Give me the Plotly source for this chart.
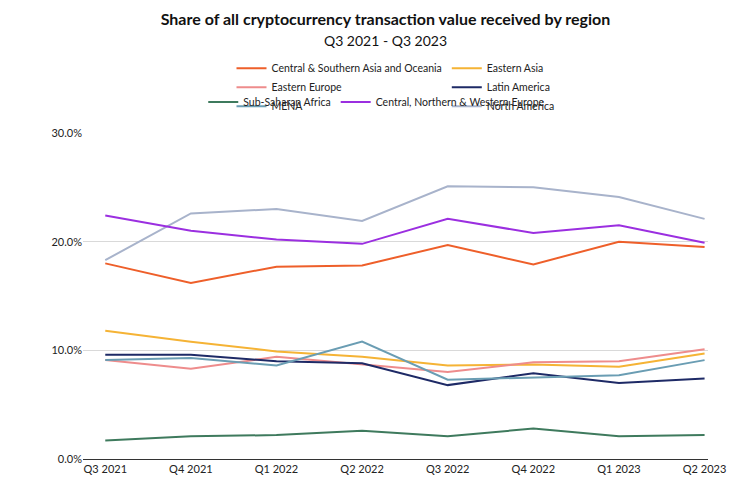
import plotly.graph_objects as go

quarters = ['Q3 2021', 'Q4 2021', 'Q1 2022', 'Q2 2022', 'Q3 2022', 'Q4 2022', 'Q1 2023', 'Q2 2023']

cs_asia = [18.0, 16.2, 17.7, 17.8, 19.7, 17.9, 20.0, 19.5]
e_asia = [11.8, 10.8, 9.9, 9.4, 8.6, 8.7, 8.5, 9.7]
e_europe = [9.1, 8.3, 9.4, 8.7, 8.0, 8.9, 9.0, 10.1]
latam = [9.6, 9.6, 9.0, 8.8, 6.8, 7.9, 7.0, 7.4]
mena = [9.1, 9.3, 8.6, 10.8, 7.3, 7.5, 7.7, 9.1]
n_america = [18.3, 22.6, 23.0, 21.9, 25.1, 25.0, 24.1, 22.1]
ss_africa = [1.7, 2.1, 2.2, 2.6, 2.1, 2.8, 2.1, 2.2]
cnw_europe = [22.4, 21.0, 20.2, 19.8, 22.1, 20.8, 21.5, 19.9]

series = [
    ('Central & Southern Asia and Oceania', cs_asia, '#EE5F2A', 'legend'),
    ('Eastern Asia', e_asia, '#F5B335', 'legend'),
    ('Eastern Europe', e_europe, '#EE8C8C', 'legend'),
    ('Latin America', latam, '#1E2A66', 'legend'),
    ('MENA', mena, '#6A9DB3', 'legend'),
    ('North America', n_america, '#A8B3CB', 'legend'),
    ('Sub-Saharan Africa', ss_africa, '#3E7A5D', 'legend2'),
    ('Central, Northern & Western Europe', cnw_europe, '#9B2FE0', 'legend2'),
]

fig = go.Figure()
for name, vals, color, lg in series:
    fig.add_trace(go.Scatter(x=quarters, y=[v / 100 for v in vals], mode='lines', name=name,
                             line=dict(color=color, width=2), legend=lg))

leg = dict(orientation='h', xanchor='center', yanchor='middle', font=dict(size=10.5),
           itemwidth=30, bgcolor='rgba(0,0,0,0)')

fig.update_layout(
    width=755, height=479,
    title=dict(text='<b>Share of all cryptocurrency transaction value received by region</b><br>'
                    '<span style="font-size:14px">Q3 2021 - Q3 2023</span>',
               x=0.5, xanchor='center', y=0.965, font=dict(size=16, color='#111')),
    font=dict(family='Lato', color='#222', size=11),
    plot_bgcolor='white', paper_bgcolor='white',
    legend=dict(leg, x=0.5, y=1.14),
    legend2=dict(leg, x=0.47, y=1.095),
    margin=dict(l=75, r=55, t=125, b=25),
    xaxis=dict(showgrid=False, showline=True, linecolor='#333', ticks='',
               range=[-0.26, 7.04], tickfont=dict(size=11)),
    yaxis=dict(range=[0, 0.3], tickvals=[0, 0.1, 0.2, 0.3], tickformat='.1%',
               gridcolor='#d9d9d9', zeroline=False, tickfont=dict(size=11)),
)

fig.write_html("out.html")
